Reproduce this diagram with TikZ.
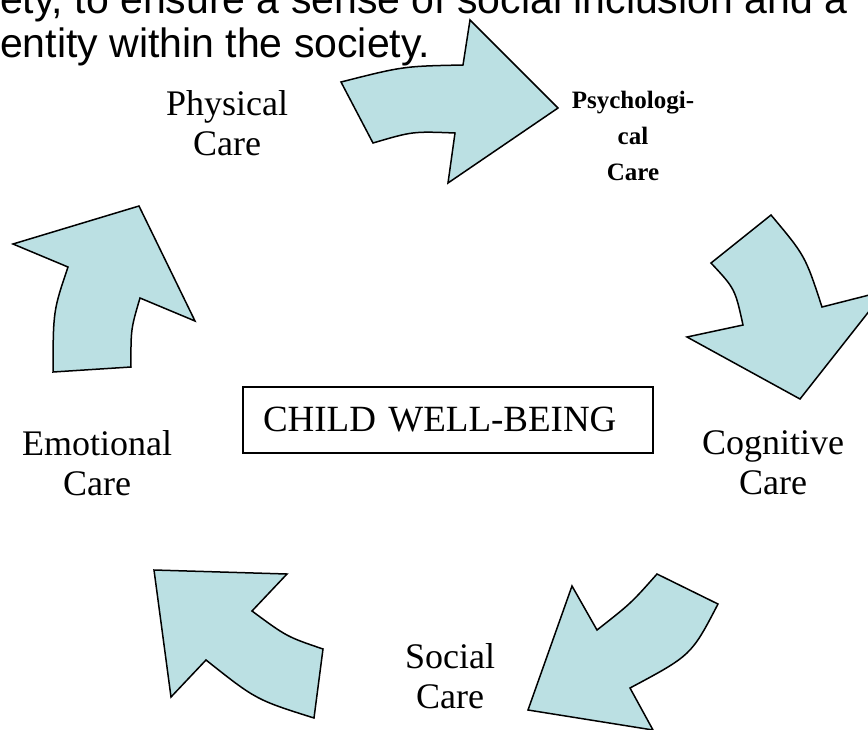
\documentclass[tikz,border=0pt]{standalone}
\usepackage{fontspec}
\setmainfont{Liberation Serif}
\newfontfamily\slidefont{Liberation Sans}
\definecolor{arrowfill}{RGB}{187,224,227}

\begin{document}
\begin{tikzpicture}[x=1pt,y=-1pt,
  blockarrow/.style={draw=black,fill=arrowfill,line width=1.5pt,line join=miter},
  caretext/.style={align=center,inner sep=0pt,font=\fontsize{36}{40}\selectfont},
  slidetext/.style={anchor=base west,inner sep=0pt,font=\slidefont\fontsize{41}{45}\selectfont}]
\useasboundingbox (0,0) rectangle (868,729);
\clip (0,0) rectangle (868,729);
\node[slidetext] (line1) at (0,13) {ety, to ensure a sense of social inclusion and a};
\node[slidetext] (line2) at (0,57) {entity within the society.};
\draw[blockarrow] (341,82) .. controls (403.3,66.2) .. (463,65) -- (470,20) -- (558,108) -- (448,183) -- (455,133) .. controls (412.7,131.3) .. (373,143) -- cycle;
\draw[blockarrow] (743,325) .. controls (735,288.7) .. (711,263) -- (771,215) .. controls (805.2,255.7) .. (822,307) -- (885,291) -- (800,399) -- (687,337) -- cycle;
\draw[blockarrow] (597,630) .. controls (631,603.3) .. (657,574) -- (718,604) .. controls (691.3,655.3) .. (630,688) -- (653,730) -- (528,710) -- (572,586) -- cycle;
\draw[blockarrow] (154,570) -- (287,574) -- (252,611) .. controls (286.8,636.7) .. (323,649) -- (314,718) .. controls (256,699.7) .. (206,660) -- (171,697) -- cycle;
\draw[blockarrow] (139,206) -- (195,321) -- (140,298) .. controls (130.8,329.2) .. (131,367) -- (53,372) .. controls (53.2,310.8) .. (68,267) -- (13,244) -- cycle;
\node[caretext] (physical) at (227,122.7) {Physical\\Care};
\node[caretext,font=\bfseries\fontsize{25}{36}\selectfont] (psychological) at (633,135.5) {Psychologi-\\cal\\Care};
\node[caretext] (cognitive) at (773,462.8) {Cognitive\\Care};
\node[caretext] (social) at (450,675.7) {Social\\Care};
\node[caretext] (emotional) at (97,462.7) {Emotional\\Care};
\node[draw,line width=1.5pt,minimum height=66pt,text width=370pt,inner xsep=20pt,inner ysep=0pt,align=left,font=\fontsize{37}{40}\selectfont] (wellbeing) at (448,420) {CHILD WELL-BEING};
\end{tikzpicture}
\end{document}
